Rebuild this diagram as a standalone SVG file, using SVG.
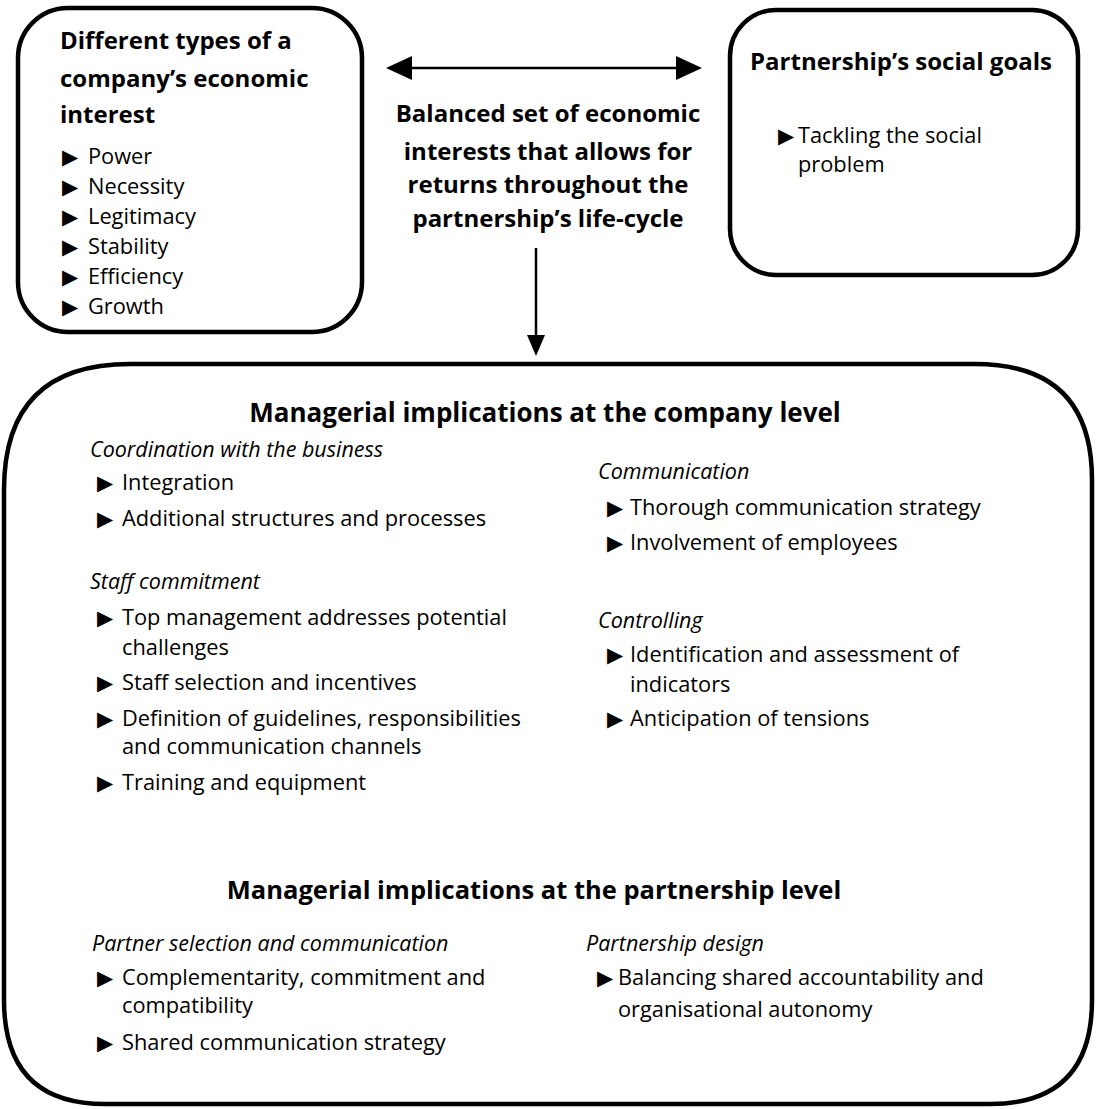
<svg xmlns="http://www.w3.org/2000/svg" width="1096" height="1109" viewBox="0 0 1096 1109">
<defs>
<style>
text{font-family:"Open Sans","Noto Sans","Liberation Sans",sans-serif;fill:#000}
.box{fill:none;stroke:#000;stroke-width:4.5}
.h{font-weight:bold;font-size:24px}
.hb{font-weight:bold;font-size:26px}
.b{font-size:21.8px}
.i{font-size:21.5px;font-style:italic}
.tri{font-family:"DejaVu Sans",sans-serif;font-size:21px}
.conn{stroke:#000;stroke-width:2.5;fill:none}
</style>
</defs>
<rect width="1096" height="1109" fill="#fff"/>

<g id="connectors">
<line class="conn" x1="412" y1="68" x2="676" y2="68"/>
<polygon points="386,68 412,56 412,80" fill="#000"/>
<polygon points="702,68 676,56 676,80" fill="#000"/>
<line class="conn" x1="536" y1="248" x2="536" y2="336"/>
<polygon points="536,356 527,335 545,335" fill="#000"/>
</g>

<g id="node-economic-interest">
<rect class="box" x="18" y="8" width="344" height="324" rx="50" ry="50"/>
<text class="h" x="60" y="49">Different types of a</text>
<text class="h" x="60" y="87">company’s economic</text>
<text class="h" x="60" y="123">interest</text>
<text class="b" y="164"><tspan class="tri" x="62">▶</tspan><tspan x="88">Power</tspan></text>
<text class="b" y="194"><tspan class="tri" x="62">▶</tspan><tspan x="88">Necessity</tspan></text>
<text class="b" y="224"><tspan class="tri" x="62">▶</tspan><tspan x="88">Legitimacy</tspan></text>
<text class="b" y="254"><tspan class="tri" x="62">▶</tspan><tspan x="88">Stability</tspan></text>
<text class="b" y="284"><tspan class="tri" x="62">▶</tspan><tspan x="88">Efficiency</tspan></text>
<text class="b" y="314"><tspan class="tri" x="62">▶</tspan><tspan x="88">Growth</tspan></text>
</g>

<g id="node-balanced">
<text class="h" x="548" y="122" text-anchor="middle">Balanced set of economic</text>
<text class="h" x="548" y="160" text-anchor="middle">interests that allows for</text>
<text class="h" x="548" y="193" text-anchor="middle">returns throughout the</text>
<text class="h" x="548" y="227" text-anchor="middle">partnership’s life-cycle</text>
</g>

<g id="node-social-goals">
<rect class="box" x="730" y="10" width="348" height="265" rx="46" ry="46"/>
<text class="h" x="750" y="70">Partnership’s social goals</text>
<text class="b" y="143"><tspan class="tri" x="778">▶</tspan><tspan x="798">Tackling the social</tspan></text>
<text class="b" x="798" y="172">problem</text>
</g>

<g id="node-managerial">
<path class="box" d="M130,364 L975,364 Q1092,364 1092,480 L1092,1000 Q1092,1104 990,1104 L105,1104 Q4,1104 4,1000 L4,490 Q4,364 130,364 Z"/>
<text class="hb" x="545" y="422" text-anchor="middle">Managerial implications at the company level</text>

<text class="i" x="90" y="457">Coordination with the business</text>
<text class="b" y="490"><tspan class="tri" x="97">▶</tspan><tspan x="122">Integration</tspan></text>
<text class="b" y="526"><tspan class="tri" x="97">▶</tspan><tspan x="122">Additional structures and processes</tspan></text>

<text class="i" x="90" y="589">Staff commitment</text>
<text class="b" y="625"><tspan class="tri" x="97">▶</tspan><tspan x="122">Top management addresses potential</tspan></text>
<text class="b" x="122" y="655">challenges</text>
<text class="b" y="690"><tspan class="tri" x="97">▶</tspan><tspan x="122">Staff selection and incentives</tspan></text>
<text class="b" y="726"><tspan class="tri" x="97">▶</tspan><tspan x="122">Definition of guidelines, responsibilities</tspan></text>
<text class="b" x="122" y="754">and communication channels</text>
<text class="b" y="790"><tspan class="tri" x="97">▶</tspan><tspan x="122">Training and equipment</tspan></text>

<text class="i" x="598" y="479">Communication</text>
<text class="b" y="515"><tspan class="tri" x="607">▶</tspan><tspan x="630">Thorough communication strategy</tspan></text>
<text class="b" y="550"><tspan class="tri" x="607">▶</tspan><tspan x="630">Involvement of employees</tspan></text>

<text class="i" x="598" y="628">Controlling</text>
<text class="b" y="662"><tspan class="tri" x="607">▶</tspan><tspan x="630">Identification and assessment of</tspan></text>
<text class="b" x="630" y="692">indicators</text>
<text class="b" y="726"><tspan class="tri" x="607">▶</tspan><tspan x="630">Anticipation of tensions</tspan></text>

<text class="hb" x="534" y="899" text-anchor="middle" style="font-size:25.5px">Managerial implications at the partnership level</text>

<text class="i" x="92" y="951">Partner selection and communication</text>
<text class="b" y="985"><tspan class="tri" x="97">▶</tspan><tspan x="122">Complementarity, commitment and</tspan></text>
<text class="b" x="122" y="1013">compatibility</text>
<text class="b" y="1050"><tspan class="tri" x="97">▶</tspan><tspan x="122">Shared communication strategy</tspan></text>

<text class="i" x="586" y="951">Partnership design</text>
<text class="b" y="985"><tspan class="tri" x="597">▶</tspan><tspan x="618">Balancing shared accountability and</tspan></text>
<text class="b" x="618" y="1017">organisational autonomy</text>
</g>
</svg>
